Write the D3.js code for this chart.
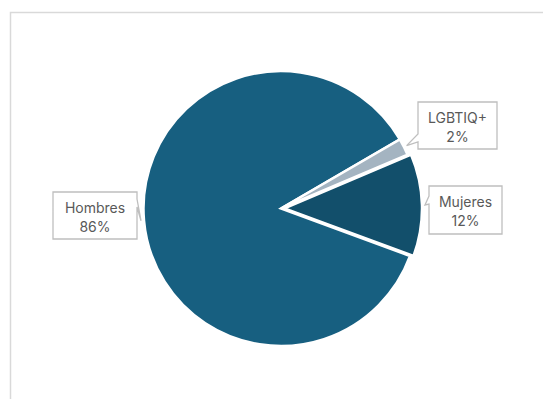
<!DOCTYPE html>
<html>
<head>
<meta charset="utf-8">
<script src="https://cdn.jsdelivr.net/npm/d3@7"></script>
<style>
  html, body { margin: 0; padding: 0; background: #fff; }
  svg { display: block; }
</style>
</head>
<body>
<svg id="chart" width="543" height="399"></svg>
<script>
// Distribución por género
const categories = ["Mujeres", "Hombres", "LGBTIQ+"];
const values = [12, 86, 2];
const valueLabels = ["12%", "86%", "2%"];

const colors = { "Hombres": "#175f80", "Mujeres": "#124f6b", "LGBTIQ+": "#a4b4c1" };

const W = 543, H = 399;
const cx = 281, cy = 208.5, R = 137.5;

const svg = d3.select("#chart");

// chart area frame
svg.append("rect")
  .attr("x", 10.5).attr("y", 12.5)
  .attr("width", W).attr("height", H)
  .attr("fill", "#fff")
  .attr("stroke", "#d9d9d9").attr("stroke-width", 1.5);

const startA = 67 * Math.PI / 180;
const pie = d3.pie().sort(null).value(d => d.v)
  .startAngle(startA).endAngle(startA + 2 * Math.PI);
const data = categories.map((c, i) => ({ c, v: values[i], l: valueLabels[i] }));
const arcs = pie(data);

const arc = d3.arc().innerRadius(0).outerRadius(R);
const explode = { "Mujeres": 3.5 };

const g = svg.append("g").attr("transform", `translate(${cx},${cy})`);

g.selectAll("path.slice").data(arcs).join("path")
  .attr("class", "slice")
  .attr("transform", d => {
    const e = explode[d.data.c] || 0;
    const m = (d.startAngle + d.endAngle) / 2;
    return `translate(${e * Math.sin(m)},${-e * Math.cos(m)})`;
  })
  .attr("d", arc)
  .attr("fill", d => colors[d.data.c])
  .attr("stroke", "#fff")
  .attr("stroke-width", 2.5)
  .attr("stroke-linejoin", "miter");

// callout boxes: box geometry + side the pointer leaves from
const callouts = {
  "LGBTIQ+": { x: 418, y: 102, w: 79, h: 47, side: "left", b0: 134, b1: 142 },
  "Mujeres": { x: 429, y: 186, w: 73, h: 48, side: "left", b0: 196, b1: 204 },
  "Hombres": { x: 53, y: 192, w: 84, h: 47, side: "right", b0: 199, b1: 207 }
};

const labels = svg.append("g");
arcs.forEach(d => {
  const c = callouts[d.data.c];
  const m = (d.startAngle + d.endAngle) / 2;
  const e = explode[d.data.c] || 0;
  const rt = R + e + 3;
  const tx = cx + rt * Math.sin(m), ty = cy - rt * Math.cos(m);
  const x0 = c.x, y0 = c.y, x1 = c.x + c.w, y1 = c.y + c.h;
  let p;
  if (c.side === "left") {
    p = `M${x0},${y0} L${x1},${y0} L${x1},${y1} L${x0},${y1} L${x0},${c.b1} L${tx},${ty} L${x0},${c.b0} Z`;
  } else {
    p = `M${x0},${y0} L${x1},${y0} L${x1},${c.b0} L${tx},${ty} L${x1},${c.b1} L${x1},${y1} L${x0},${y1} Z`;
  }
  labels.append("path")
    .attr("d", p)
    .attr("fill", "#fff")
    .attr("stroke", "#bfbfbf")
    .attr("stroke-width", 1.3)
    .attr("stroke-linejoin", "miter");
  const t = labels.append("text")
    .attr("x", c.x + c.w / 2)
    .attr("text-anchor", "middle")
    .attr("font-family", "Inter, 'Open Sans', sans-serif")
    .attr("font-size", 14)
    .attr("fill", "#595959");
  t.append("tspan").attr("x", c.x + c.w / 2).attr("y", c.y + 20.5).text(d.data.c);
  t.append("tspan").attr("x", c.x + c.w / 2).attr("y", c.y + 39.5).text(d.data.l);
});
</script>
</body>
</html>
